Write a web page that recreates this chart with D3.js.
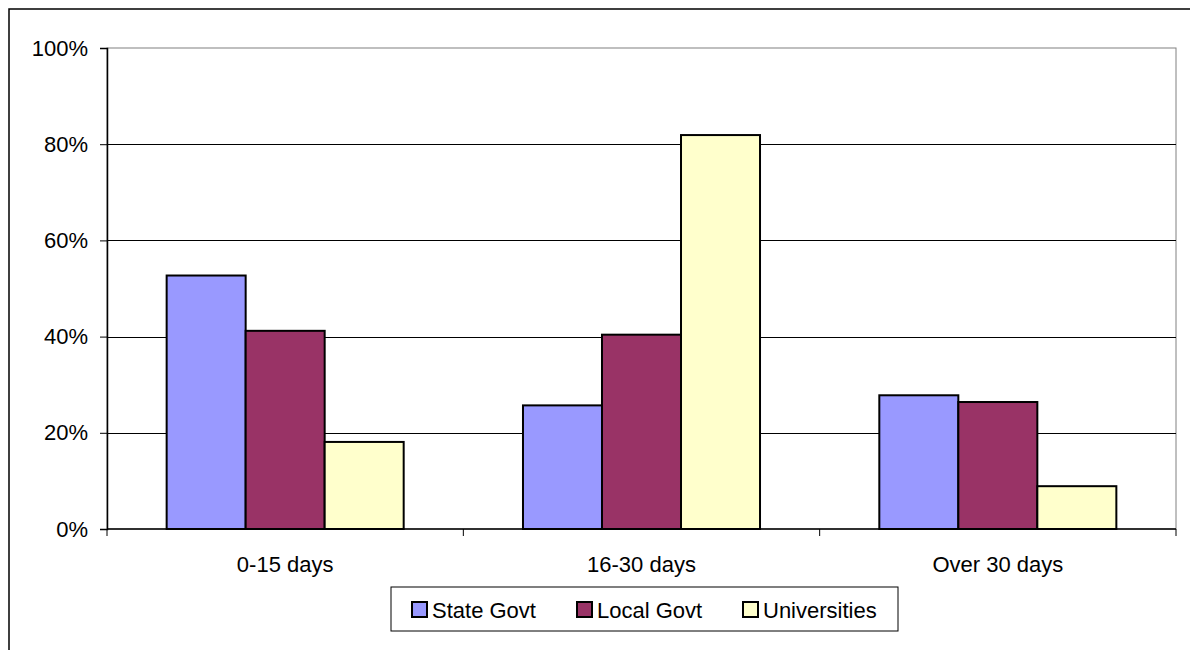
<!DOCTYPE html>
<html>
<head>
<meta charset="utf-8">
<script src="https://cdn.jsdelivr.net/npm/d3@7"></script>
<style>
  html, body { margin: 0; padding: 0; background: #fff; }
  svg { display: block; }
  text { font-family: "Liberation Sans", Arial, sans-serif; fill: #000; }
</style>
</head>
<body>
<svg id="chart" width="1190" height="650"></svg>
<script>
// Share of responses by time period, per sector
const categories = ["0-15 days", "16-30 days", "Over 30 days"];
const seriesNames = ["State Govt", "Local Govt", "Universities"];
const stateGovt = [52.7, 25.7, 27.8];
const localGovt = [41.2, 40.4, 26.4];
const universities = [18.1, 81.9, 8.9];
const yTicks = [0, 20, 40, 60, 80, 100];
const seriesColors = ["#9999FF", "#993366", "#FFFFCC"];

const seriesValues = [stateGovt, localGovt, universities];

const svg = d3.select("#chart");
const W = 1190, H = 650;
const plot = { left: 107, right: 1176, top: 48, bottom: 529 };

// Outer chart frame (runs off the right and bottom edges)
svg.append("rect")
  .attr("x", 9).attr("y", 9)
  .attr("width", W + 20).attr("height", H + 20)
  .attr("fill", "#fff")
  .attr("stroke", "#000").attr("stroke-width", 1.5);

const x0 = d3.scaleBand().domain(categories).range([plot.left, plot.right]);
const x1 = d3.scaleBand().domain(seriesNames)
  .range([0, x0.bandwidth()])
  .paddingInner(0).paddingOuter(0.755);
const y = d3.scaleLinear().domain([0, 100]).range([plot.bottom, plot.top]);

// Plot-area border
svg.append("rect")
  .attr("x", plot.left).attr("y", plot.top)
  .attr("width", plot.right - plot.left).attr("height", plot.bottom - plot.top)
  .attr("fill", "none").attr("stroke", "#808080").attr("stroke-width", 1);

// Horizontal gridlines
svg.append("g")
  .selectAll("line")
  .data(yTicks.filter(t => t > 0 && t < 100))
  .join("line")
  .attr("x1", plot.left).attr("x2", plot.right)
  .attr("y1", d => Math.round(y(d)) + 0.5).attr("y2", d => Math.round(y(d)) + 0.5)
  .attr("stroke", "#000").attr("stroke-width", 1);

// Bars
const rows = categories.map((c, i) => ({
  category: c,
  values: seriesNames.map((s, j) => ({ series: s, idx: j, value: seriesValues[j][i] }))
}));

svg.append("g")
  .selectAll("g")
  .data(rows)
  .join("g")
  .attr("transform", d => `translate(${x0(d.category)},0)`)
  .selectAll("rect")
  .data(d => d.values)
  .join("rect")
  .attr("x", d => x1(d.series))
  .attr("y", d => y(d.value))
  .attr("width", x1.bandwidth())
  .attr("height", d => y(0) - y(d.value))
  .attr("fill", d => seriesColors[d.idx])
  .attr("stroke", "#000")
  .attr("stroke-width", 2);

// Y axis
const yAxis = d3.axisLeft(y)
  .tickValues(yTicks)
  .tickFormat(d => d + "%")
  .tickSize(7)
  .tickPadding(12);
const gy = svg.append("g")
  .attr("transform", `translate(${plot.left},0)`)
  .call(yAxis);
gy.select(".domain").attr("stroke", "#000").attr("stroke-width", 1.5);
gy.selectAll(".tick line").attr("stroke", "#000");
gy.selectAll(".tick text")
  .style("font-family", "'Liberation Sans', Arial, sans-serif")
  .style("font-size", "22px")
  .attr("fill", "#000");

// X axis baseline and category boundary ticks
const gx = svg.append("g");
gx.append("line")
  .attr("x1", plot.left).attr("x2", plot.right)
  .attr("y1", y(0)).attr("y2", y(0))
  .attr("stroke", "#000").attr("stroke-width", 1.5);
const boundaries = categories.map(c => x0(c)).concat([x0(categories[categories.length - 1]) + x0.bandwidth()]);
gx.selectAll("line.bt")
  .data(boundaries)
  .join("line")
  .attr("class", "bt")
  .attr("x1", d => d).attr("x2", d => d)
  .attr("y1", y(0)).attr("y2", y(0) + 7)
  .attr("stroke", "#000").attr("stroke-width", 1);
gx.selectAll("text")
  .data(categories)
  .join("text")
  .attr("x", d => x0(d) + x0.bandwidth() / 2)
  .attr("y", 572)
  .attr("text-anchor", "middle")
  .style("font-size", "22px")
  .text(d => d);

// Legend
const legend = svg.append("g");
legend.append("rect")
  .attr("x", 391).attr("y", 587)
  .attr("width", 507).attr("height", 44)
  .attr("fill", "#fff").attr("stroke", "#000").attr("stroke-width", 1);
const legendX = [412, 577, 743];
const items = legend.selectAll("g.item")
  .data(seriesNames)
  .join("g")
  .attr("class", "item")
  .attr("transform", (d, i) => `translate(${legendX[i]},0)`);
items.append("rect")
  .attr("x", 0).attr("y", 602)
  .attr("width", 15).attr("height", 15)
  .attr("fill", (d, i) => seriesColors[i])
  .attr("stroke", "#000").attr("stroke-width", 2);
items.append("text")
  .attr("x", 20).attr("y", 617.5)
  .style("font-size", "22px")
  .text(d => d);
</script>
</body>
</html>
